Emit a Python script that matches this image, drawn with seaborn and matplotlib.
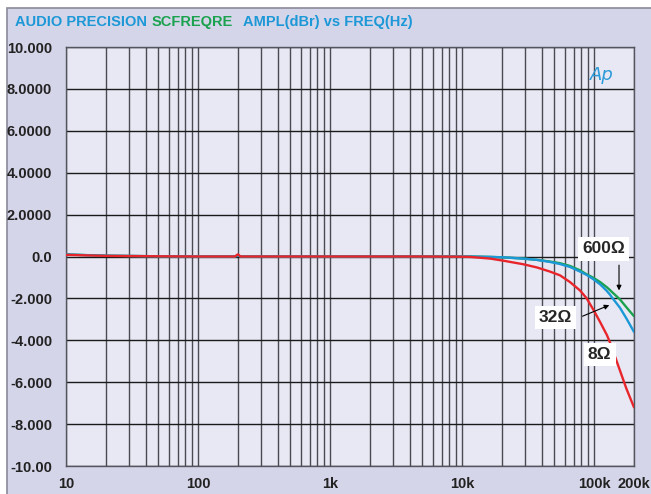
import numpy as np
import pandas as pd
import matplotlib.pyplot as plt
import matplotlib.patches as mpatches
from matplotlib.ticker import FixedLocator, NullFormatter, LogLocator
import seaborn as sns

sns.set_style("white")
plt.rcParams["font.family"] = ["Liberation Sans", "DejaVu Sans"]

# ---------------------------------------------------------
# Data read off the Audio Precision sweep
# ---------------------------------------------------------
freq = [10, 15, 20, 50, 100, 190, 200, 210, 500, 1000, 2000, 5000, 10000,
        11500, 16300, 20500, 29000, 36700, 46200, 55100, 65500, 78000,
        87700, 92900, 98700, 110800, 124700, 131500, 136500, 156700,
        175000, 200000]

ampl_600 = [0.10, 0.06, 0.04, 0.01, 0.0, 0.0, 0.05, 0.0, 0.0, 0.0, 0.0, 0.0, 0.0,
            0.0, -0.02, -0.04, -0.10, -0.16, -0.24, -0.32, -0.45, -0.66,
            -0.85, -0.93, -1.02, -1.22, -1.47, -1.60, -1.70, -2.05,
            -2.42, -2.85]
ampl_32 = [0.10, 0.06, 0.04, 0.01, 0.0, 0.0, 0.05, 0.0, 0.0, 0.0, 0.0, 0.0, 0.0,
           0.0, -0.02, -0.04, -0.10, -0.16, -0.26, -0.36, -0.50, -0.72,
           -0.88, -0.98, -1.09, -1.33, -1.65, -1.82, -1.96, -2.45,
           -2.95, -3.60]
ampl_8 = [0.08, 0.05, 0.03, 0.01, 0.0, 0.0, 0.10, 0.0, 0.0, 0.0, 0.0, 0.0, -0.01,
          -0.02, -0.10, -0.20, -0.37, -0.52, -0.72, -0.90, -1.22, -1.62,
          -2.00, -2.27, -2.55, -3.13, -3.75, -4.10, -4.38, -5.45,
          -6.30, -7.20]

loads = ["600Ω", "32Ω", "8Ω"]
colors = {"600Ω": "#1ba24f", "32Ω": "#1c98d6", "8Ω": "#e8252b"}

y_ticks = [10, 8, 6, 4, 2, 0, -2, -4, -6, -8, -10]
y_labels = ["10.000", "8.0000", "6.0000", "4.0000", "2.0000", "0.0",
            "-2.000", "-4.000", "-6.000", "-8.000", "-10.00"]
x_ticks = [10, 100, 1000, 10000, 100000, 200000]
x_labels = ["10", "100", "1k", "10k", "100k", "200k"]

df = pd.DataFrame({
    "freq": freq * 3,
    "ampl": ampl_600 + ampl_32 + ampl_8,
    "load": np.repeat(loads, len(freq)),
})

# ---------------------------------------------------------
# Figure
# ---------------------------------------------------------
fig = plt.figure(figsize=(6.51, 4.94), dpi=100, facecolor="white")
panel = mpatches.Rectangle((7 / 651, -0.01), 1.0, 1 - 8 / 494 + 0.01,
                           transform=fig.transFigure, facecolor="#d5d5ea",
                           edgecolor="#8a8a9a", linewidth=1.2, zorder=-5)
fig.patches.append(panel)

ax = fig.add_axes([66 / 651, 1 - 466 / 494, (634 - 66) / 651, (466 - 47) / 494])
ax.set_zorder(1)
ax.set_facecolor("#e8e8f4")

sns.lineplot(data=df, x="freq", y="ampl", hue="load", hue_order=loads,
             palette=colors, linewidth=1.7, legend=False, ax=ax, zorder=3)

ax.set_xscale("log")
ax.set_xlim(10, 200000)
ax.set_ylim(-10, 10)

ax.xaxis.set_major_locator(FixedLocator(x_ticks))
ax.set_xticklabels(x_labels)
ax.xaxis.set_minor_locator(LogLocator(base=10, subs=np.arange(2, 10)))
ax.xaxis.set_minor_formatter(NullFormatter())
ax.set_yticks(y_ticks)
ax.set_yticklabels(y_labels)

ax.grid(True, which="both", axis="x", color="#4a4a55", linewidth=1.0)
ax.grid(True, which="major", axis="y", color="#1a1a1a", linewidth=1.0)
ax.set_axisbelow(True)
ax.tick_params(which="both", length=0)
ax.tick_params(axis="y", pad=10)
ax.tick_params(axis="x", pad=8)
for lab in ax.get_xticklabels() + ax.get_yticklabels():
    lab.set_fontweight("bold")
    lab.set_fontsize(10.5)
    lab.set_color("#222222")
for s in ax.spines.values():
    s.set_color("#555560")
    s.set_linewidth(1.0)
ax.set_xlabel("")
ax.set_ylabel("")

# title in three colours, each piece hung off the previous one
tkw = dict(fontsize=10.5, fontweight="bold", va="center", ha="left")
t1 = fig.text(15 / 651, 1 - 22 / 494, "AUDIO PRECISION", color="#1c98d6", **tkw)
t2 = fig.add_artist(plt.Annotation("SCFREQRE", xy=(1, 0.5), xycoords=t1,
                                   xytext=(3.5, 0), textcoords="offset points",
                                   color="#1ba24f", **tkw))
fig.add_artist(plt.Annotation("AMPL(dBr) vs FREQ(Hz)", xy=(1, 0.5), xycoords=t2,
                              xytext=(7, 0), textcoords="offset points",
                              color="#1c98d6", **tkw))

ax.text(0.965, 0.955, "Ap", transform=ax.transAxes, color="#2a9ad8",
        fontsize=13, fontstyle="italic", ha="right", va="top",
        family=["DejaVu Sans"])

# curve labels
box = dict(facecolor="white", edgecolor="none", pad=3)
lkw = dict(fontsize=12.5, fontweight="bold", ha="center", va="center",
           bbox=box, zorder=5)
ax.text(118000, 0.36, "600Ω", **lkw)
ax.text(51000, -2.9, "32Ω", **lkw)
ax.text(110000, -4.67, "8Ω", **lkw)
arr = dict(arrowstyle="-|>", color="black", lw=0.8, mutation_scale=7)
ax.annotate("", xy=(154000, -1.75), xytext=(154000, -0.28),
            arrowprops=arr, zorder=5)
ax.annotate("", xy=(136000, -2.27), xytext=(78000, -2.9),
            arrowprops=arr, zorder=5)

fig.savefig("out.png", dpi=100, facecolor=fig.get_facecolor())
